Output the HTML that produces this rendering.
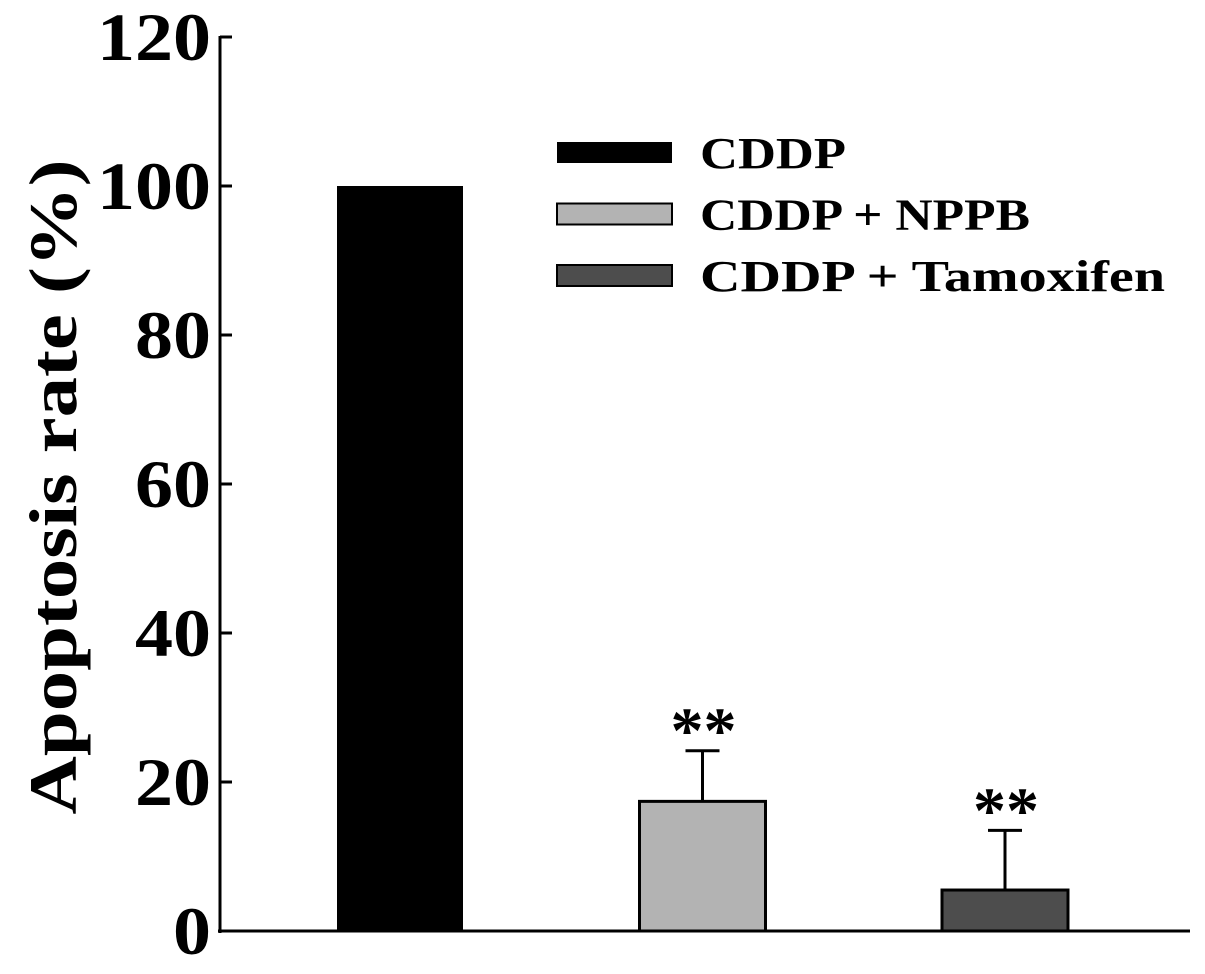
<!DOCTYPE html>
<html><head><meta charset="utf-8"><style>
body{margin:0;background:#fff}
svg text{font-family:"Liberation Serif",serif;font-weight:bold;fill:#000}
</style></head><body>
<svg width="1205" height="969">
<g id="g"></g>
</svg>
<script>
const categories=["CDDP","CDDP + NPPB","CDDP + Tamoxifen"];
const values=[100,17.4,5.5];
const errors=[0,6.8,8.0];
const sig=["","**","**"];
const ticks=[0,20,40,60,80,100,120];
const fills=["#000000","#b3b3b3","#4d4d4d"];
const legendLen=[146,330,465];
const y0=931, k=7.45;
const ys=v=>y0-v*k;
const xs=i=>337+i*302.5;
const bw=126;
const g=document.getElementById('g');
const NS='http://www.w3.org/2000/svg';
function mk(t,a,txt){const e=document.createElementNS(NS,t);for(const n in a)e.setAttribute(n,a[n]);if(txt!==undefined)e.textContent=txt;g.appendChild(e);return e;}
let ax=mk('line',{x1:220,y1:ys(120)-1,x2:220,y2:y0+2,stroke:'#000','stroke-width':3});


let bx=mk('line',{x1:218,y1:y0,x2:1190,y2:y0,stroke:'#000','stroke-width':3});


ticks.forEach(t=>{
 let l=mk('line',{x1:220,x2:232,y1:ys(t),y2:ys(t),stroke:'#000','stroke-width':3});
 
 
 const s=String(t);
 let tx=mk('text',{x:211,y:ys(t)+23,'text-anchor':'end','font-size':68,textLength:s.length*38,lengthAdjust:'spacingAndGlyphs'},s);
 
 
});
let tt=mk('text',{transform:'translate(76,487) rotate(-90)','text-anchor':'middle','font-size':68,textLength:655,lengthAdjust:'spacingAndGlyphs'},'Apoptosis rate (%)');


values.forEach((v,i)=>{
 const x=xs(i);
 if(errors[i]>0){
  let e=mk('line',{x1:x+bw/2,x2:x+bw/2,y1:ys(v),y2:ys(v+errors[i]),stroke:'#000','stroke-width':3});
  
  
  let c=mk('line',{x1:x+bw/2-17,x2:x+bw/2+17,y1:ys(v+errors[i]),y2:ys(v+errors[i]),stroke:'#000','stroke-width':3});
  
  
 }
 let r=mk('rect',{x:x,y:ys(v),width:bw,height:v*k,fill:fills[i],stroke:'#000','stroke-width':i?3:0});
 
 
 if(sig[i]){
  let s=mk('text',{x:x+bw/2+1,y:ys(v+errors[i])+2,'text-anchor':'middle','font-size':66},sig[i]);
  
  
 }
 let ly=142+i*61.5;
 let sw=mk('rect',{x:557,y:ly,width:115,height:21,fill:fills[i],stroke:'#000','stroke-width':i?2:0});
 
 
 let lt=mk('text',{x:700,y:ly+26,'font-size':44,textLength:legendLen[i],lengthAdjust:'spacingAndGlyphs'},categories[i]);
 
 
});
</script>
</body></html>
